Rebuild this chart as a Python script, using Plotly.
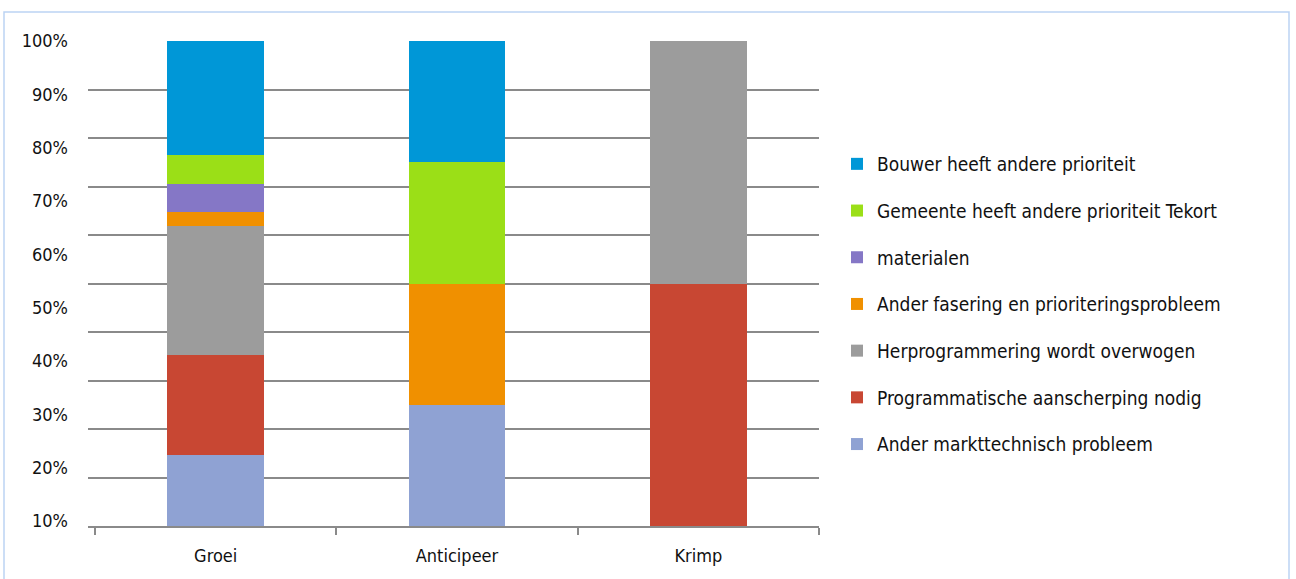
import plotly.graph_objects as go

categories = ["Groei", "Anticipeer", "Krimp"]

series_names = [
    "Ander markttechnisch probleem",
    "Programmatische aanscherping nodig",
    "Herprogrammering wordt overwogen",
    "Ander fasering en prioriteringsprobleem",
    "materialen",
    "Gemeente heeft andere prioriteit Tekort",
    "Bouwer heeft andere prioriteit",
]

markttechnisch = [14.7, 25.0, 0.0]
aanscherping = [20.6, 0.0, 50.0]
herprogrammering = [26.5, 0.0, 50.0]
fasering = [2.9, 25.0, 0.0]
materialen = [5.9, 0.0, 0.0]
gemeente = [5.9, 25.0, 0.0]
bouwer = [23.5, 25.0, 0.0]

series_values = [markttechnisch, aanscherping, herprogrammering, fasering,
                 materialen, gemeente, bouwer]

colors = ["#8fa2d3", "#c84733", "#9c9c9c", "#f09000", "#8577c6", "#9bdf17", "#0097d7"]

tick_labels = ["10%", "20%", "30%", "40%", "50%", "60%", "70%", "80%", "90%", "100%"]
tick_numbers = [10, 20, 30, 40, 50, 60, 70, 80, 90, 100]
# label positions as printed in the original (not aligned with the gridlines)
tick_positions = [1 + (v - 10) * 1.1 for v in tick_numbers]
grid_values = [0, 10, 20, 30, 40, 50, 60, 70, 80, 90, 100]

FONT = "Liberation Sans Narrow, DejaVu Sans Condensed, Arial Narrow, sans-serif"

fig = go.Figure()
n = len(series_names)
for i, (name, vals, col) in enumerate(zip(series_names, series_values, colors)):
    fig.add_trace(go.Bar(
        x=categories, y=vals, name=name, marker=dict(color=col, line=dict(width=0)),
        legendgroup=name, legendrank=n - i,
    ))

W, H = 1296, 579
left, right, top, bottom = 88, 819, 41, 526

fig.update_layout(
    width=W, height=H,
    barmode="stack", bargap=0.6,
    plot_bgcolor="white", paper_bgcolor="white",
    margin=dict(l=left, r=W - right, t=top, b=H - bottom, pad=0),
    font=dict(family=FONT, size=18, color="#111111"),
    showlegend=True,
    legend=dict(
        traceorder="grouped", tracegroupgap=19,
        x=(837 - left) / (right - left), xanchor="left",
        y=1 - (145 - top) / (bottom - top), yanchor="top",
        font=dict(family=FONT, size=19, color="#111111"),
        bgcolor="rgba(0,0,0,0)", borderwidth=0,
    ),
    xaxis=dict(
        range=[-0.529, 2.5], showgrid=False, showline=True, linecolor="#8a8a8a", linewidth=1.5,
        ticks="outside", tickson="boundaries", ticklen=7, tickcolor="#8a8a8a", tickwidth=1.5,
        ticklabelstandoff=13,
        tickfont=dict(family=FONT, size=18, color="#111111"), fixedrange=True,
    ),
    yaxis=dict(
        range=[0, 100], showgrid=False, zeroline=False, showline=False,
        tickvals=tick_positions, ticktext=tick_labels, ticks="",
        ticklabelstandoff=19,
        tickfont=dict(family=FONT, size=18, color="#111111"),
        minor=dict(tickvals=grid_values, showgrid=True, gridcolor="#8a8a8a", gridwidth=1.5, ticks=""),
    ),
)

# faint outer frame of the original figure
fx = lambda px: (px - left) / (right - left)
fy = lambda py: 1 - (py - top) / (bottom - top)
fig.add_shape(type="rect", xref="paper", yref="paper",
              x0=fx(4), x1=fx(1289), y0=fy(590), y1=fy(12),
              line=dict(color="#bcd3f3", width=1.5), fillcolor="rgba(0,0,0,0)", layer="below")

fig.write_html("out.html", config={"displayModeBar": False},
               post_script="document.body.style.margin='0';")
